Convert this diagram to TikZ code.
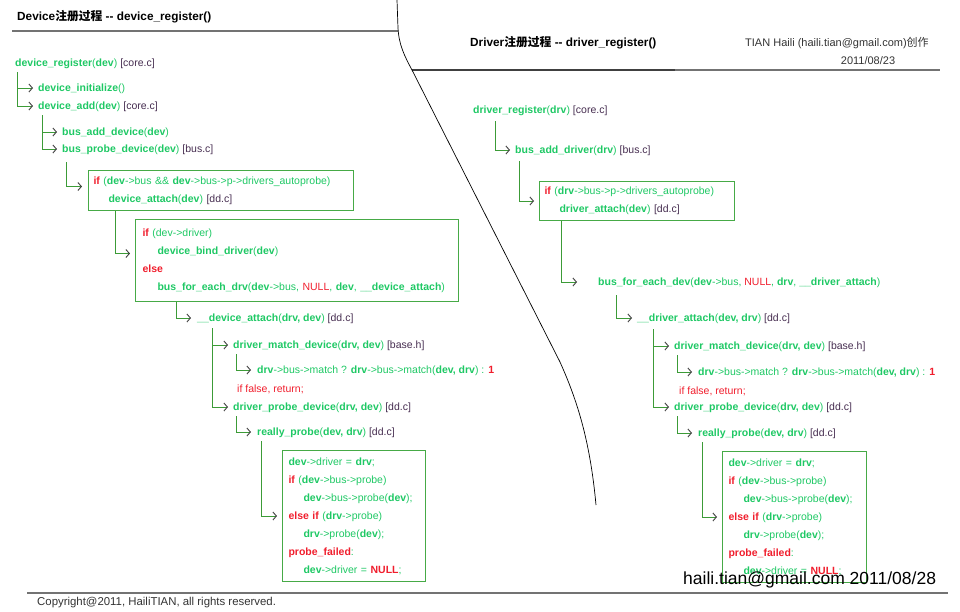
\documentclass[tikz,border=0pt]{standalone}
\usepackage{fontspec}
\setmainfont{Liberation Sans}
\newfontfamily\cjk{Noto Sans CJK SC}
\usetikzlibrary{arrows.meta}

\definecolor{codegreen}{RGB}{30,200,100}
\definecolor{linegreen}{RGB}{60,155,55}
\definecolor{boxgreen}{RGB}{70,170,70}
\definecolor{keyred}{RGB}{240,30,45}
\definecolor{srcdark}{RGB}{70,45,80}

\newcommand\cfn[1]{\textbf{\color{codegreen}#1}}
\newcommand\ctx[1]{{\color{codegreen}#1}}
\newcommand\ckw[1]{\textbf{\color{keyred}#1}}
\newcommand\cred[1]{{\color{keyred}#1}}
\newcommand\csrc[1]{{\color{srcdark}#1}}
\newcommand\probebody{%
  \cfn{dev}\ctx{->driver = }\cfn{drv}\ctx{;}\\
  \ckw{if} \ctx{(}\cfn{dev}\ctx{->bus->probe)}\\
  \hspace*{15pt}\cfn{dev}\ctx{->bus->probe(}\cfn{dev}\ctx{);}\\
  \ckw{else if} \ctx{(}\cfn{drv}\ctx{->probe)}\\
  \hspace*{15pt}\cfn{drv}\ctx{->probe(}\cfn{dev}\ctx{);}\\
  \ckw{probe\_failed}\ctx{:}\\
  \hspace*{15pt}\cfn{dev}\ctx{->driver = }\ckw{NULL}\ctx{;}}

\tikzset{
  code/.style={anchor=west, inner sep=0pt, text height=8pt, text depth=2pt,
    font=\fontsize{10.5}{18}\selectfont},
  falsenote/.style={anchor=west, inner sep=0pt, text=keyred,
    font=\fontsize{10.5}{12}\selectfont},
  codebox/.style={draw=boxgreen, line width=1pt, anchor=north west, align=left,
    inner ysep=0pt, font=\fontsize{10.5}{18}\selectfont},
  title/.style={anchor=west, inner sep=0pt, font=\fontsize{11.8}{14}\selectfont\bfseries},
  note/.style={anchor=west, inner sep=0pt, text=black!80, font=\fontsize{11}{13}\selectfont},
  conn/.style={draw=linegreen, line width=0.9pt,
    -{Straight Barb[length=3.5pt,width=8pt,color=black!75]}},
  rule/.style={draw=black!55, line width=1.6pt}
}

\begin{document}
\begin{tikzpicture}[x=1pt,y=-1pt]
  \useasboundingbox (0,0) rectangle (960,611);

  % headings and rules
  \node (ltitle) [title] at (17,17) {Device{\cjk 注册过程} -{}- device\_register()};
  \draw [rule] (12,31) -- (398,31);
  \node (rtitle) [title] at (470,43) {Driver{\cjk 注册过程} -{}- driver\_register()};
  \node (author) [note] at (745,43) {TIAN Haili (haili.tian@gmail.com){\cjk 创作}};
  \node (adate) [note, anchor=center] at (868,61) {2011/08/23};
  \draw [black!75, line width=1.1pt] (412,70) -- (675,70);
  \draw [black!55, line width=1.1pt] (675,70) -- (940,70);
  \draw [black, line width=0.7pt] (397,0) -- (398,28) .. controls (399,45) and (404,55) .. (412,70)
    -- (560,362) .. controls (577,400) and (590,440) .. (596,505);
  \draw [rule] (27,593) -- (948,593);
  \node (copyright) [note, font=\fontsize{11.4}{13}\selectfont] at (37,603) {Copyright@2011, HailiTIAN, all rights reserved.};

  % device side
  \node (dreg) [code] at (15,63) {\cfn{device\_register}\ctx{(}\cfn{dev}\ctx{)} \csrc{[core.c]}};
  \node (dinit) [code] at (38,88) {\cfn{device\_initialize}\ctx{()}};
  \node (dadd) [code] at (38,106) {\cfn{device\_add}\ctx{(}\cfn{dev}\ctx{)} \csrc{[core.c]}};
  \node (badd) [code] at (62,132) {\cfn{bus\_add\_device}\ctx{(}\cfn{dev}\ctx{)}};
  \node (bprobe) [code] at (62,149) {\cfn{bus\_probe\_device}\ctx{(}\cfn{dev}\ctx{)} \csrc{[bus.c]}};
  \node (abox) [codebox, text width=255pt, minimum height=40pt, inner xsep=5pt] at (88,170)
    {\ckw{if} \ctx{(}\cfn{dev}\ctx{->bus \&\& }\cfn{dev}\ctx{->bus->p->drivers\_autoprobe)}\\
     \hspace*{15pt}\cfn{device\_attach}\ctx{(}\cfn{dev}\ctx{)} \csrc{[dd.c]}};
  \node (bbox) [codebox, text width=309pt, minimum height=82pt, inner xsep=7pt] at (135,219)
    {\ckw{if} \ctx{(dev->driver)}\\
     \hspace*{15pt}\cfn{device\_bind\_driver}\ctx{(}\cfn{dev}\ctx{)}\\
     \ckw{else}\\
     \hspace*{15pt}\cfn{bus\_for\_each\_drv}\ctx{(}\cfn{dev}\ctx{->bus, }\cred{NULL}\ctx{, }\cfn{dev}\ctx{, }\cfn{\_\_device\_attach}\ctx{)}};
  \node (dattach) [code] at (197,318) {\cfn{\_\_device\_attach}\ctx{(}\cfn{drv, dev}\ctx{)} \csrc{[dd.c]}};
  \node (dmatch) [code] at (233,345) {\cfn{driver\_match\_device}\ctx{(}\cfn{drv, dev}\ctx{)} \csrc{[base.h]}};
  \node (dbusm) [code] at (257,370) {\cfn{drv}\ctx{->bus->match ? }\cfn{drv}\ctx{->bus->match(}\cfn{dev, drv}\ctx{) : }\ckw{1}};
  \node (dfalse) [falsenote] at (237,389) {if false, return;};
  \node (dprobe) [code] at (233,407) {\cfn{driver\_probe\_device}\ctx{(}\cfn{drv, dev}\ctx{)} \csrc{[dd.c]}};
  \node (dreally) [code] at (257,432) {\cfn{really\_probe}\ctx{(}\cfn{dev, drv}\ctx{)} \csrc{[dd.c]}};
  \node (cbox) [codebox, text width=131pt, minimum height=131pt, inner xsep=6pt] at (282,450) {\probebody};

  \draw [conn] ([xshift=2pt,yshift=-4pt]dreg.south west) |- ([xshift=-5pt]dinit.west);
  \draw [conn] ([xshift=2pt,yshift=-4pt]dreg.south west) |- ([xshift=-5pt]dadd.west);
  \draw [conn] ([xshift=4pt,yshift=-4pt]dadd.south west) |- ([xshift=-5pt]badd.west);
  \draw [conn] ([xshift=4pt,yshift=-4pt]dadd.south west) |- ([xshift=-5pt]bprobe.west);
  \draw [conn] ([xshift=4pt,yshift=-8pt]bprobe.south west) |- ([xshift=-6pt,yshift=4pt]abox.west);
  \draw [conn] ([xshift=27pt]abox.south west) |- ([xshift=-5pt,yshift=7pt]bbox.west);
  \draw [conn] ([xshift=41pt]bbox.south west) |- ([xshift=-6pt]dattach.west);
  \draw [conn] ([xshift=15pt,yshift=-5pt]dattach.south west) |- ([xshift=-5pt]dmatch.west);
  \draw [conn] ([xshift=15pt,yshift=-5pt]dattach.south west) |- ([xshift=-5pt]dprobe.west);
  \draw [conn] ([xshift=3pt,yshift=-4pt]dmatch.south west) |- ([xshift=-6pt]dbusm.west);
  \draw [conn] ([xshift=3pt,yshift=-4pt]dprobe.south west) |- ([xshift=-6pt]dreally.west);
  \draw [conn] ([xshift=4pt,yshift=-4pt]dreally.south west) |- ([xshift=-5pt]cbox.west);

  % driver side
  \node (rreg) [code] at (473,110) {\cfn{driver\_register}\ctx{(}\cfn{drv}\ctx{)} \csrc{[core.c]}};
  \node (radd) [code] at (515,150) {\cfn{bus\_add\_driver}\ctx{(}\cfn{drv}\ctx{)} \csrc{[bus.c]}};
  \node (rabox) [codebox, text width=185pt, minimum height=39pt, inner xsep=5pt] at (539,181)
    {\ckw{if} \ctx{(}\cfn{drv}\ctx{->bus->p->drivers\_autoprobe)}\\
     \hspace*{15pt}\cfn{driver\_attach}\ctx{(}\cfn{dev}\ctx{)} \csrc{[dd.c]}};
  \node (rbusdev) [code] at (598,282) {\cfn{bus\_for\_each\_dev}\ctx{(}\cfn{dev}\ctx{->bus, }\cred{NULL}\ctx{, }\cfn{drv}\ctx{, }\cfn{\_\_driver\_attach}\ctx{)}};
  \node (rattach) [code] at (637,318) {\cfn{\_\_driver\_attach}\ctx{(}\cfn{dev, drv}\ctx{)} \csrc{[dd.c]}};
  \node (rmatch) [code] at (674,346) {\cfn{driver\_match\_device}\ctx{(}\cfn{drv, dev}\ctx{)} \csrc{[base.h]}};
  \node (rbusm) [code] at (698,372) {\cfn{drv}\ctx{->bus->match ? }\cfn{drv}\ctx{->bus->match(}\cfn{dev, drv}\ctx{) : }\ckw{1}};
  \node (rfalse) [falsenote] at (679,391) {if false, return;};
  \node (rprobe) [code] at (674,407) {\cfn{driver\_probe\_device}\ctx{(}\cfn{drv, dev}\ctx{)} \csrc{[dd.c]}};
  \node (rreally) [code] at (698,433) {\cfn{really\_probe}\ctx{(}\cfn{dev, drv}\ctx{)} \csrc{[dd.c]}};
  \node (rcbox) [codebox, text width=132pt, minimum height=131pt, inner xsep=6pt] at (722,451) {\probebody};

  \draw [conn] ([xshift=22pt,yshift=-6pt]rreg.south west) |- ([xshift=-5pt]radd.west);
  \draw [conn] ([xshift=4pt,yshift=-6pt]radd.south west) |- ([xshift=-5pt]rabox.west);
  \draw [conn] ([xshift=22pt]rabox.south west) |- ([xshift=-21pt]rbusdev.west);
  \draw [conn] ([xshift=18pt,yshift=-8pt]rbusdev.south west) |- ([xshift=-5pt]rattach.west);
  \draw [conn] ([xshift=16pt,yshift=-6pt]rattach.south west) |- ([xshift=-5pt]rmatch.west);
  \draw [conn] ([xshift=16pt,yshift=-6pt]rattach.south west) |- ([xshift=-5pt]rprobe.west);
  \draw [conn] ([xshift=3pt,yshift=-4pt]rmatch.south west) |- ([xshift=-6pt]rbusm.west);
  \draw [conn] ([xshift=3pt,yshift=-4pt]rprobe.south west) |- ([xshift=-6pt]rreally.west);
  \draw [conn] ([xshift=4pt,yshift=-4pt]rreally.south west) |- ([xshift=-5pt]rcbox.west);

  \node (stamp) [anchor=west, inner sep=0pt, font=\fontsize{17.5}{20}\selectfont] at (683,580) {haili.tian@gmail.com 2011/08/28};
\end{tikzpicture}
\end{document}
